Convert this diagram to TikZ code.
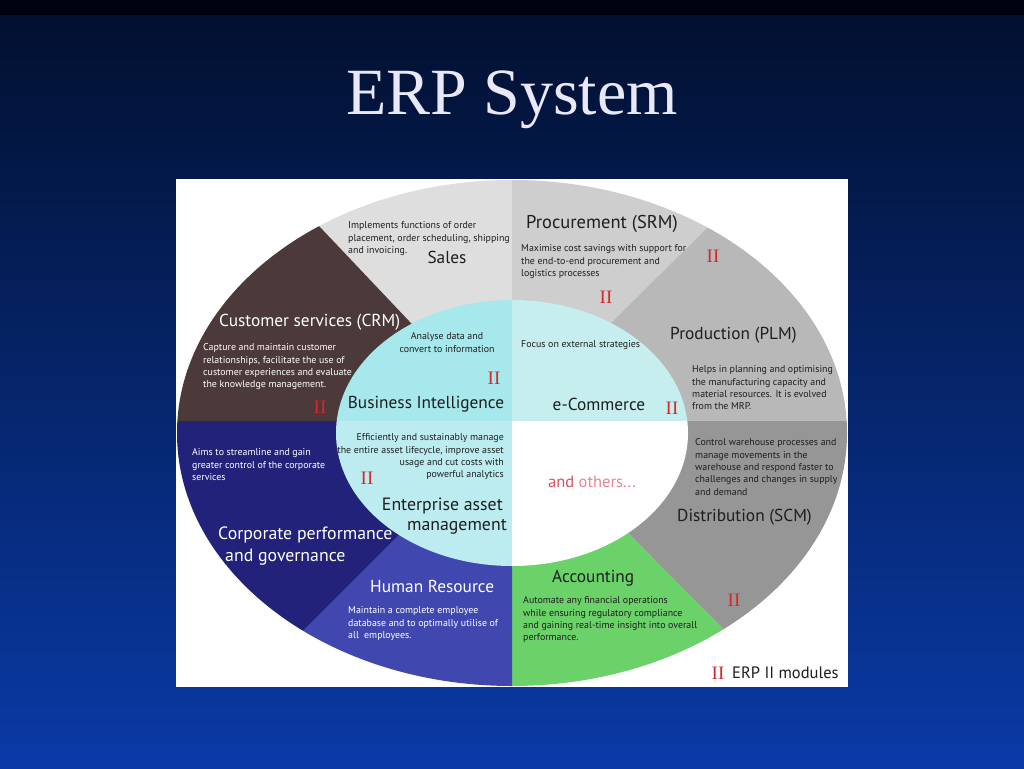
\documentclass[tikz,border=0pt]{standalone}
\usepackage{fontspec}
\setmainfont{PT Sans}
\newfontfamily\serifttl{Liberation Serif}
\definecolor{bgband}{RGB}{0,2,18}
\definecolor{bgtop}{RGB}{2,16,48}
\definecolor{bgbot}{RGB}{9,58,166}
\definecolor{csales}{RGB}{222,222,222}
\definecolor{cproc}{RGB}{206,206,206}
\definecolor{cprod}{RGB}{184,184,184}
\definecolor{cdist}{RGB}{150,150,150}
\definecolor{cacc}{RGB}{106,210,104}
\definecolor{chr}{RGB}{64,72,176}
\definecolor{ccorp}{RGB}{34,34,122}
\definecolor{ccrm}{RGB}{76,57,57}
\definecolor{cbi}{RGB}{166,232,236}
\definecolor{cec}{RGB}{198,238,238}
\definecolor{ceam}{RGB}{188,236,240}
\definecolor{cred}{RGB}{214,40,40}
\definecolor{cand}{RGB}{214,80,92}
\definecolor{cothers}{RGB}{232,134,142}
\definecolor{txtd}{RGB}{30,30,30}
\definecolor{ttl}{RGB}{232,232,248}
\begin{document}
\begin{tikzpicture}[x=1pt,y=-1pt,
  desc/.style={inner sep=0pt,align=left,text=txtd,font=\fontsize{9.9}{12.4}\selectfont},
  descw/.style={desc,text=white},
  head/.style={inner sep=0pt,text=txtd,font=\fontsize{17.3}{21}\selectfont},
  headw/.style={head,text=white},
  erpmark/.style={inner sep=0pt,text=cred,font=\serifttl\fontsize{19}{19}\selectfont}]
\useasboundingbox (0,0) rectangle (1024,768);
% background
\shade[top color=bgtop, bottom color=bgbot] (0,15) rectangle (1024,768);
\fill[bgband] (0,0) rectangle (1024,15);
% title
\node[inner sep=0pt,text=ttl,font=\serifttl\fontsize{66}{66}\selectfont] (title) at (512,100) {ERP System};
% panel
\fill[white] (176,179) rectangle (848,687);
% outer ring sectors
\begin{scope}
\clip (512,433) ellipse [x radius=335pt, y radius=253pt];
\fill[csales] (499,416) -- (139,36) -- (512,30) -- (512,421) -- cycle;
\fill[cproc] (512,421) -- (512,30) -- (895,42) -- (519,414) -- cycle;
\fill[cprod] (519,414) -- (895,42) -- (950,42) -- (950,421) -- (512,421) -- cycle;
\fill[cdist] (512,421) -- (950,421) -- (950,821) -- (913,821) -- (533,437) -- cycle;
\fill[cacc] (533,437) -- (913,821) -- (512,830) -- (512,421) -- cycle;
\fill[chr] (512,421) -- (512,830) -- (126,808) -- (486,448) -- cycle;
\fill[ccorp] (486,448) -- (126,808) -- (80,808) -- (80,421) -- (512,421) -- cycle;
\fill[ccrm] (512,421) -- (80,421) -- (80,36) -- (139,36) -- (499,416) -- cycle;
\end{scope}
% inner quadrants
\begin{scope}
\clip (512,433) ellipse [x radius=176pt, y radius=133pt];
\fill[cbi] (320,280) rectangle (512,421);
\fill[cec] (512,280) rectangle (700,421);
\fill[ceam] (320,421) rectangle (512,580);
\fill[white] (512,421) rectangle (700,580);
\end{scope}
% Sales
\node[desc,anchor=north west] (salesd) at (348,221.5) {Implements functions of order\\placement, order scheduling, shipping\\and invoicing.};
\node[head] (sales) at (447,257) {Sales};
% Procurement
\node[head,anchor=west,font=\fontsize{18.5}{21}\selectfont] (proc) at (526,224) {Procurement (SRM)};
\node[desc,anchor=north west] (procd) at (521,244.5) {Maximise cost savings with support for\\the end-to-end procurement and\\logistics processes};
\node[erpmark] (m1) at (606,297) {II};
\node[erpmark] (m2) at (713,256) {II};
% Production
\node[head,anchor=west] (prod) at (670,335) {Production (PLM)};
\node[desc,anchor=north west] (prodd) at (692,365.5) {Helps in planning and optimising\\the manufacturing capacity and\\material resources. It is evolved\\from the MRP.};
% CRM
\node[headw,anchor=west] (crm) at (219,322) {Customer services (CRM)};
\node[descw,anchor=north west] (crmd) at (203,343.5) {Capture and maintain customer\\relationships, facilitate the use of\\customer experiences and evaluate\\the knowledge management.};
\node[erpmark] (m3) at (320,407) {II};
% BI
\node[desc,align=center,anchor=north] (bid) at (447,332.5) {Analyse data and\\convert to information};
\node[erpmark] (m4) at (494,378) {II};
\node[head] (bi) at (426,404) {Business Intelligence};
% e-Commerce
\node[desc,anchor=west] (ecd) at (521,345) {Focus on external strategies};
\node[head] (ec) at (599,404) {e-Commerce};
\node[erpmark] (m5) at (672,408) {II};
% Corporate
\node[descw,anchor=north west] (corpd) at (192,448.5) {Aims to streamline and gain\\greater control of the corporate\\services};
\node[headw,anchor=west,font=\fontsize{17.8}{22}\selectfont] (corp1) at (218,535) {Corporate performance};
\node[headw,anchor=west,font=\fontsize{17.8}{22}\selectfont] (corp2) at (225,557) {and governance};
% EAM
\node[desc,align=right,anchor=north east] (eamd) at (504,433.5) {Efficiently and sustainably manage\\the entire asset lifecycle, improve asset\\usage and cut costs with\\powerful analytics};
\node[erpmark] (m6) at (367,478) {II};
\node[head,anchor=east,font=\fontsize{17.8}{21}\selectfont] (eam1) at (503,506) {Enterprise asset};
\node[head,anchor=east,font=\fontsize{17.8}{21}\selectfont] (eam2) at (507,527) {management};
% others
\node[inner sep=0pt,font=\fontsize{16.5}{16}\selectfont] (others) at (592,482) {\textcolor{cand}{and} \textcolor{cothers}{others...}};
% Distribution
\node[desc,anchor=north west] (distd) at (695,438.5) {Control warehouse processes and\\manage movements in the\\warehouse and respond faster to\\challenges and changes in supply\\and demand};
\node[head,anchor=west] (dist) at (677,517) {Distribution (SCM)};
\node[erpmark] (m7) at (734,600) {II};
% Accounting
\node[head,anchor=west] (acc) at (552,578) {Accounting};
\node[desc,anchor=north west] (accd) at (523,596.5) {Automate any financial operations\\while ensuring regulatory compliance\\and gaining real-time insight into overall\\performance.};
% HR
\node[headw,anchor=west] (hr) at (370,586) {Human Resource};
\node[descw,anchor=north west] (hrd) at (348,606.5) {Maintain a complete employee\\database and to optimally utilise of\\all\ \ employees.};
% legend
\node[erpmark] (m8) at (718,673) {II};
\node[inner sep=0pt,anchor=west,text=txtd,font=\fontsize{16.5}{16}\selectfont] (legend) at (732,673) {ERP II modules};
\end{tikzpicture}
\end{document}
